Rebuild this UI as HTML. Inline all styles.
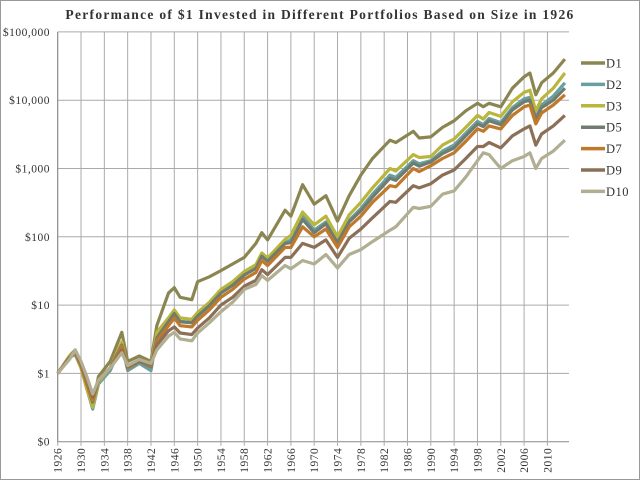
<!DOCTYPE html>
<html><head><meta charset="utf-8"><style>
body{margin:0;background:#fff;}
svg{display:block;font-family:"Liberation Serif",serif;}
</style></head><body>
<svg id="chart" width="640" height="480">
<rect x="0.5" y="0.5" width="639" height="479" fill="#fff" stroke="#999"/>
<text x="320" y="19" text-anchor="middle" font-size="13.5" font-weight="bold" letter-spacing="1.3" fill="#333">Performance of $1 Invested in Different Portfolios Based on Size in 1926</text>
<g id="grid"></g><g id="axes"></g><g id="series"></g><g id="legend"></g>
</svg>
<script>
const years=[1926,1928,1929,1930,1931,1932,1933,1935,1937,1938,1940,1942,1943,1945,1946,1947,1949,1950,1952,1954,1956,1958,1960,1961,1962,1965,1966,1968,1970,1972,1974,1976,1978,1980,1983,1984,1987,1988,1990,1992,1994,1996,1998,1999,2000,2002,2004,2006,2007,2008,2009,2011,2013];
const d1=[1,1.8,2.2,1.3,0.6,0.35,0.9,1.5,4,1.5,1.8,1.5,5,15,18,13,12,22,26,32,40,50,80,115,90,245,200,580,300,400,170,400,800,1400,2600,2400,3500,2800,2900,4000,5000,7000,9000,8000,9000,8000,15000,22000,25000,12000,18000,25000,40000];
const d2=[1,1.7,1.9,1.2,0.6,0.3,0.7,1.1,2.7,1.1,1.4,1.1,3.5,5.8,7.8,5.8,5.6,7,10,15.5,20,28,35,53,45,82,90,200,125,165,85,175,260,420,800,740,1300,1170,1300,1800,2200,3300,4900,4400,5400,4700,7800,10500,11000,5600,8500,11500,18000];
const d3=[1,1.8,2.0,1.2,0.6,0.32,0.75,1.2,2.9,1.2,1.5,1.3,4,6.5,8.5,6.5,6.2,7.8,11,17,22,31,39,58,49,92,105,230,150,200,100,210,320,520,1000,920,1600,1450,1500,2200,2700,4000,6000,5300,6600,5800,9500,13000,14000,7000,10500,15000,25000];
const d5=[1,1.7,2.0,1.3,0.7,0.38,0.8,1.2,2.6,1.2,1.5,1.25,3.3,5.7,7.5,5.7,5.5,6.9,9.8,15,19.5,27.6,34.5,52,44,80,82,180,115,155,82,165,240,380,720,670,1200,1080,1250,1650,2000,3000,4500,4100,5000,4400,7200,9500,10000,5200,7800,10000,15000];
const d7=[1,1.7,2.0,1.3,0.7,0.4,0.8,1.2,2.5,1.2,1.5,1.3,3.0,5,6.5,5,4.8,6,8.5,13,17,24,30,45,38,70,70,140,100,130,70,140,200,320,560,540,1000,900,1100,1400,1700,2500,3800,3500,4200,3800,6000,8000,8500,4500,6500,8500,12000];
const d9=[1,1.7,2.1,1.4,0.8,0.45,0.8,1.2,2.2,1.25,1.5,1.35,2.6,4.2,4.8,3.9,3.7,4.6,6.5,10,13,19,23,33,28,50,50,80,70,90,50,95,130,190,330,320,560,520,600,800,950,1400,2100,2100,2400,2000,3000,3800,4200,2200,3200,4200,6000];
const d10=[1,1.6,2.2,1.5,0.9,0.5,0.8,1.2,2.0,1.3,1.6,1.4,2.2,3.5,4,3.2,3,3.9,5.5,8,11,17,20,27,23,38,34,45,40,55,35,55,65,85,125,140,270,260,280,420,470,750,1300,1700,1600,1000,1300,1500,1700,1000,1400,1800,2600];
const yTickVals=[0.1,1,10,100,1000,10000,100000];
const yTickLabels=["$0","$1","$10","$100","$1,000","$10,000","$100,000"];
const xTickYears=[1926,1930,1934,1938,1942,1946,1950,1954,1958,1962,1966,1970,1974,1978,1982,1986,1990,1994,1998,2002,2006,2010];
const seriesNames=["D1","D2","D3","D5","D7","D9","D10"];
const seriesData=[d1,d2,d3,d5,d7,d9,d10];
const colors=["#8b8651","#6a9fa2","#b9b53d","#6f7c70","#c0782b","#8c6f57","#b1ae92"];
const NS="http://www.w3.org/2000/svg";
const X0=57.7,PX_YEAR=5.83,X1=569,YBASE=441.7,PX_DEC=68.3;
const xs=y=>X0+(y-1926)*PX_YEAR;
const ys=v=>YBASE-(Math.log10(v)+1)*PX_DEC;
function mk(tag,attrs,parent){const e=document.createElementNS(NS,tag);for(const k in attrs)e.setAttribute(k,attrs[k]);parent.appendChild(e);return e;}
const grid=document.getElementById('grid'),axes=document.getElementById('axes'),ser=document.getElementById('series'),leg=document.getElementById('legend');
yTickVals.forEach((v,i)=>{
 const l=mk('line',{x1:X0,x2:X1,y1:ys(v),y2:ys(v),stroke:i==0?'#888':'#aaa','stroke-width':1},grid);
 
 
 const t=mk('text',{x:50,y:ys(v)+4,'text-anchor':'end','font-size':11.5,'letter-spacing':0.5,fill:'#333'},axes);
 t.textContent=yTickLabels[i];
 
 
});
xTickYears.forEach(yr=>{
 const x=xs(yr);
 const l=mk('line',{x1:x,x2:x,y1:ys(100000),y2:YBASE+4,stroke:'#aaa','stroke-width':1},grid);
 
 
 const t=mk('text',{x:x+4,y:YBASE+6,'text-anchor':'end','font-size':11.5,'letter-spacing':0.5,fill:'#333',transform:`rotate(-90 ${x+4} ${YBASE+6})`},axes);
 t.textContent=yr;
 
 
});
const ax=mk('line',{x1:X0,x2:X0,y1:ys(100000),y2:YBASE,stroke:'#888'},axes);


seriesData.forEach((d,i)=>{
 const pts=d.map((v,j)=>xs(years[j]).toFixed(1)+','+ys(v).toFixed(1)).join(' ');
 const p=mk('polyline',{points:pts,fill:'none',stroke:colors[i],'stroke-width':3.2,'stroke-linejoin':'round'},ser);
 
 
 const ly=63+i*21.4;
 const g=mk('g',{},leg);
 
 
 mk('line',{x1:581,x2:605,y1:ly,y2:ly,stroke:colors[i],'stroke-width':3.5},g);
 const t=mk('text',{x:606,y:ly+4.5,'font-size':12.5,'letter-spacing':0.5,fill:'#333'},g);
 t.textContent=seriesNames[i];
});
</script>
</body></html>
